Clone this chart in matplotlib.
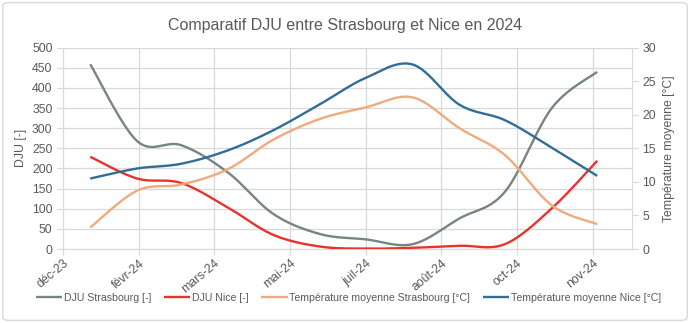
import numpy as np
import matplotlib
matplotlib.use("Agg")
import matplotlib.pyplot as plt
import matplotlib.dates as mdates
from matplotlib.patches import FancyBboxPatch
from datetime import date, timedelta

plt.rcParams['font.family'] = ['Liberation Sans', 'DejaVu Sans']

# Monthly values for 2024 (1st of each month)
months = [date(2024, m, 1) for m in range(1, 13)]
dju_strasbourg = [459, 268, 258, 190, 87, 37, 24, 12, 76, 142, 350, 440]
dju_nice = [229, 175, 164, 103, 35, 6, 1, 3, 8, 12, 101, 219]
temp_strasbourg = [3.2, 8.7, 9.6, 11.9, 16.3, 19.4, 21.1, 22.6, 18.0, 14.0, 6.5, 3.7]
temp_nice = [10.5, 12.0, 12.7, 14.7, 17.7, 21.6, 25.5, 27.5, 21.5, 19.2, 15.1, 10.9]

tick_labels = ["déc-23", "févr-24", "mars-24", "mai-24", "juil-24", "août-24", "oct-24", "nov-24"]
axis_start = date(2023, 12, 14)
axis_end = date(2024, 12, 24)
tick_step_days = 50

series_names = ["DJU Strasbourg [-]", "DJU Nice [-]",
                "Température moyenne Strasbourg [°C]", "Température moyenne Nice [°C]"]
colors = ["#758680", "#e8322c", "#f0aa7c", "#2f6e97"]

TXT = "#595959"
GRID = "#d9d9d9"


def smooth(xs, ys, n=40):
    """Cubic Bezier smoothing through every point (spreadsheet-style curves)."""
    xs = np.asarray(xs, float)
    ys = np.asarray(ys, float)
    P = np.column_stack([xs, ys])
    k = len(P)
    out = [P[0]]
    t = np.linspace(0, 1, n)[1:, None]
    for i in range(k - 1):
        p0 = P[i]
        p3 = P[i + 1]
        prev = P[i - 1] if i > 0 else P[i]
        nxt = P[i + 2] if i + 2 < k else P[i + 1]
        c1 = p0 + (p3 - prev) / 6.0
        c2 = p3 - (nxt - p0) / 6.0
        seg = ((1 - t) ** 3) * p0 + 3 * ((1 - t) ** 2) * t * c1 + 3 * (1 - t) * t ** 2 * c2 + t ** 3 * p3
        out.extend(seg)
    out = np.array(out)
    return out[:, 0], out[:, 1]


fig = plt.figure(figsize=(6.9, 3.23), dpi=100)
fig.patch.set_facecolor("white")
fig.patches.append(FancyBboxPatch((0.004, 0.008), 0.992, 0.984,
                                  boxstyle="round,pad=0,rounding_size=0.01",
                                  transform=fig.transFigure, facecolor="white",
                                  edgecolor="#d9d9d9", linewidth=1.0, zorder=-10))

ax = fig.add_axes([63 / 690, 1 - 249 / 323, (632 - 63) / 690, (249 - 47.7) / 323])
ax2 = ax.twinx()

xnum = mdates.date2num(months)

lines = []
for vals, c, name in [(dju_strasbourg, colors[0], series_names[0]),
                      (dju_nice, colors[1], series_names[1])]:
    sx, sy = smooth(xnum, vals)
    l, = ax.plot(sx, sy, color=c, lw=1.7, label=name, solid_capstyle="butt", zorder=3)
    lines.append(l)
for vals, c, name in [(temp_strasbourg, colors[2], series_names[2]),
                      (temp_nice, colors[3], series_names[3])]:
    sx, sy = smooth(xnum, vals)
    l, = ax2.plot(sx, sy, color=c, lw=1.7, label=name, solid_capstyle="butt", zorder=3)
    lines.append(l)

ax.set_xlim(mdates.date2num(axis_start), mdates.date2num(axis_end))
ax.set_ylim(0, 500)
ax2.set_ylim(0, 30)

ticks = [mdates.date2num(axis_start + timedelta(days=tick_step_days * i)) for i in range(len(tick_labels))]
ax.set_xticks(ticks)
ax.set_xticklabels(tick_labels, rotation=40, ha="right", rotation_mode="anchor")
ax.set_yticks(np.arange(0, 501, 50))
ax2.set_yticks(np.arange(0, 31, 5))

ax.grid(True, color=GRID, lw=0.9)
ax.set_axisbelow(True)
for a in (ax, ax2):
    for s in a.spines.values():
        s.set_visible(False)
ax.spines["left"].set_visible(True)
ax.spines["left"].set_color(GRID)
ax.spines["bottom"].set_visible(True)
ax.spines["bottom"].set_color(GRID)
ax2.spines["right"].set_visible(True)
ax2.spines["right"].set_color(GRID)

ax.tick_params(axis="both", colors=GRID, labelcolor=TXT, labelsize=8.8, length=4, width=0.9)
ax.tick_params(axis="x", pad=2)
ax2.tick_params(axis="y", colors=GRID, labelcolor=TXT, labelsize=8.8, length=4, width=0.9)

ax.set_ylabel("DJU [-]", color=TXT, fontsize=8.8, labelpad=4)
ax2.set_ylabel("Température moyenne [°C]", color=TXT, fontsize=8.8, labelpad=5)

fig.suptitle("Comparatif DJU entre Strasbourg et Nice en 2024", color=TXT,
             fontsize=11.5, y=0.945)

fig.legend(lines, series_names, loc="center", bbox_to_anchor=(0.505, 1 - 298 / 323),
           ncol=4, frameon=False, fontsize=7.6, labelcolor=TXT,
           handlelength=2.5, handletextpad=0.15, columnspacing=1.2)

fig.savefig("out.png", dpi=100, facecolor="white")
